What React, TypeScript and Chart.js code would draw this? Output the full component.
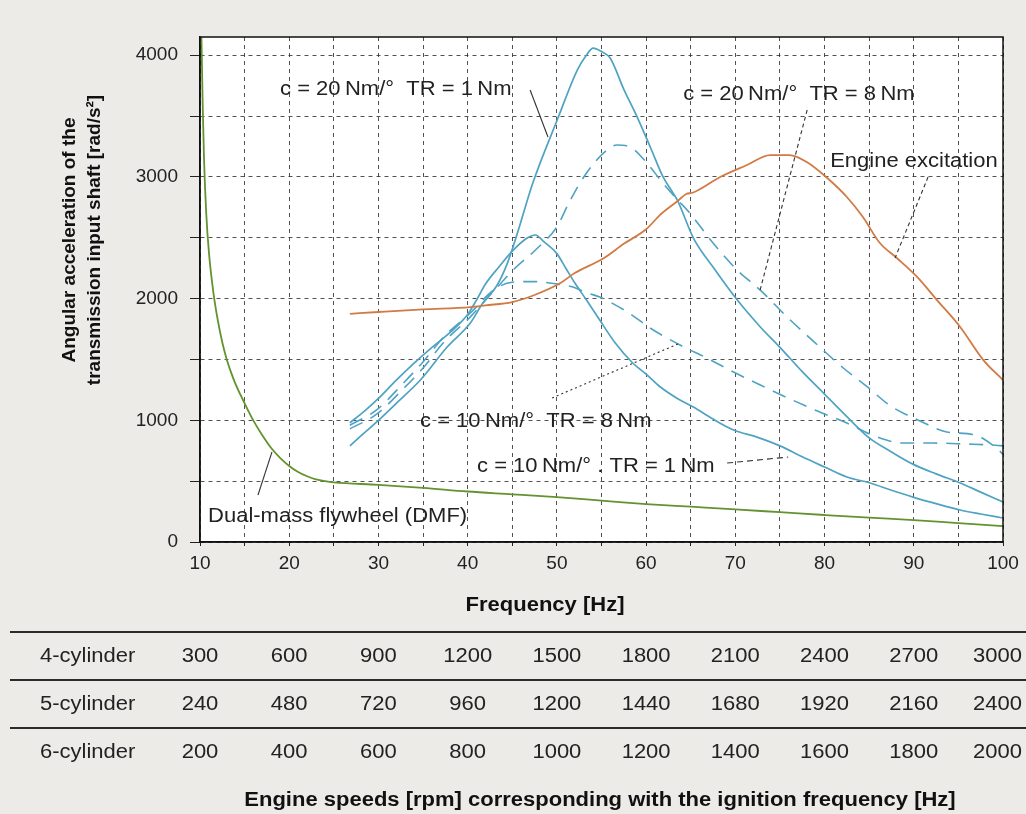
import React, { useEffect, useRef } from 'react';
import { Chart, registerables } from 'chart.js';

Chart.register(...registerables);

// ---- Data (Hz, rad/s^2) ----
const dmfHz = [10.12, 10.2, 10.3, 10.45, 10.7, 11.0, 11.5, 12.0, 12.5, 13.0, 13.5, 14.0, 14.5, 15.0, 15.5, 16.0, 17.0, 18.0, 19.0, 20.0, 21.0, 22.0, 23.0, 24.0, 25.0, 30, 35, 40, 45, 50, 55, 60, 65, 70, 75, 80, 85, 90, 95, 100];
const dmfVal = [4300, 4000, 3600, 3150, 2700, 2380, 2050, 1820, 1640, 1500, 1390, 1295, 1215, 1140, 1065, 995, 875, 770, 690, 625, 575, 540, 515, 500, 490, 470, 445, 415, 392, 368, 340, 312, 290, 268, 245, 222, 200, 180, 155, 131];

const c20tr1Hz = [26.8, 28, 30, 32, 34.7, 37.7, 40.3, 41.7, 43.3, 44.5, 45.5, 47.3, 50.1, 52.3, 53.3, 54.06, 55.0, 55.97, 57.5, 59.0, 60.5, 61.9, 63.0, 63.5, 65.3, 67.5, 70.2, 72.8, 75.0, 77.5, 80.0, 82.5, 85.0, 87.5, 89.9, 92.5, 95.2, 97.5, 100];
const c20tr1Val = [790, 870, 1000, 1140, 1331, 1602, 1800, 1964, 2110, 2300, 2520, 2950, 3480, 3880, 4000, 4059, 4030, 3977, 3720, 3492, 3240, 3000, 2870, 2810, 2498, 2260, 1990, 1767, 1600, 1400, 1215, 1030, 855, 740, 640, 560, 485, 410, 329];

const c10tr1Hz = [26.8, 28.5, 30, 32, 34, 36, 38, 40, 41, 42, 43.5, 45, 46.5, 47.6, 48.5, 50, 51, 52, 53.3, 54.8, 56.5, 58.5, 60, 61.6, 63.5, 65.3, 67.5, 69.8, 72.5, 75, 77.5, 80, 82.5, 85.1, 87.5, 90, 92.5, 95.2, 97.5, 100];
const c10tr1Val = [980, 1080, 1180, 1330, 1470, 1600, 1720, 1870, 1990, 2120, 2260, 2390, 2490, 2523, 2470, 2370, 2250, 2130, 1990, 1824, 1640, 1471, 1380, 1274, 1180, 1109, 1010, 920, 860, 790, 700, 616, 534, 485, 425, 367, 315, 263, 230, 197];

const c10tr8Hz = [26.8, 29.8, 32.8, 35, 37.3, 40.3, 42.9, 45, 47.5, 50, 51.8, 53.3, 54.8, 57.9, 60.8, 63.8, 66.8, 69.8, 72.8, 75.9, 79.2, 82.5, 85.6, 88.8, 92.2, 95.8, 99.2, 100];
const c10tr8Val = [960, 1085, 1306, 1480, 1684, 1882, 2070, 2135, 2140, 2120, 2095, 2050, 2013, 1890, 1742, 1619, 1512, 1397, 1290, 1183, 1076, 978, 871, 813, 813, 805, 795, 790];

const c20tr8Hz = [26.8, 29.8, 32.8, 35, 37.3, 40.3, 42.9, 45.3, 47.6, 50, 51.4, 53.3, 55.6, 56.7, 58.2, 60.1, 61.6, 63.3, 64.9, 67.5, 70.2, 72.8, 75.8, 79.5, 82.1, 84.8, 87.4, 90.7, 93.7, 96.9, 99.5, 100];
const c20tr8Val = [930, 1050, 1260, 1430, 1640, 1850, 2060, 2250, 2400, 2590, 2795, 3030, 3221, 3262, 3246, 3114, 2975, 2830, 2703, 2457, 2235, 2070, 1849, 1600, 1430, 1274, 1118, 994, 904, 879, 756, 720];

const engineHz = [26.8, 30, 35, 40.3, 42, 45, 47.5, 50.4, 52, 55.2, 57.5, 60, 61.6, 63.5, 64.5, 65.2, 68.3, 71.3, 73.9, 76.1, 78, 80.3, 82.5, 84.3, 86.2, 88.1, 90.4, 92.6, 95.2, 97.8, 100];
const engineVal = [1875, 1890, 1912, 1931, 1945, 1972, 2030, 2128, 2210, 2330, 2450, 2570, 2690, 2800, 2860, 2870, 3000, 3098, 3180, 3180, 3122, 2991, 2835, 2670, 2457, 2334, 2177, 1988, 1767, 1495, 1331];

// ---- Axis ticks ----
const xTickValues = [10, 15, 20, 25, 30, 35, 40, 45, 50, 55, 60, 65, 70, 75, 80, 85, 90, 95, 100];
const yTickValues = [0, 500, 1000, 1500, 2000, 2500, 3000, 3500, 4000];

// ---- Table below the axis ----
const freqTicks = [10, 20, 30, 40, 50, 60, 70, 80, 90, 100];
const rpm4 = [300, 600, 900, 1200, 1500, 1800, 2100, 2400, 2700, 3000];
const rpm5 = [240, 480, 720, 960, 1200, 1440, 1680, 1920, 2160, 2400];
const rpm6 = [200, 400, 600, 800, 1000, 1200, 1400, 1600, 1800, 2000];
const rowLabels = ['4-cylinder', '5-cylinder', '6-cylinder'];

// ---- Annotations (text, anchor in data units) ----
const noteTexts = ['c = 20\u2009Nm/\u00B0  TR = 1\u2009Nm', 'c = 20\u2009Nm/\u00B0  TR = 8\u2009Nm', 'Engine excitation', 'c = 10\u2009Nm/\u00B0  TR = 8\u2009Nm', 'c = 10\u2009Nm/\u00B0 . TR = 1\u2009Nm', 'Dual-mass flywheel (DMF)'];
const noteHz = [18.97, 64.15, 80.63, 34.66, 41.05, 10.9];
const noteVal = [3673, 3632, 3081, 945, 575, 164];
const leaderFromHz = [47.0, 78.05, 91.6, 49.46, 69.08, 16.5];
const leaderFromVal = [3714, 3550, 2999, 1183, 649, 386];
const leaderToHz = [49.0, 72.78, 87.9, 63.8, 75.92, 18.07];
const leaderToVal = [3328, 2071, 2334, 1635, 698, 740];
const leaderDash = [[], [4, 3], [4, 3], [2, 3], [6, 4], []];

const BLUE = '#4fa3c2';
const ORANGE = '#d27a44';
const GREEN = '#62932f';
const FONT = '"Liberation Sans", Arial, Helvetica, sans-serif';
const STRETCH = 1.1;

const pts = (xs: number[], ys: number[]) => xs.map((x, i) => ({ x, y: ys[i] }));

function stretchText(ctx: CanvasRenderingContext2D, text: string, x: number, y: number, sx: number) {
  ctx.save();
  ctx.translate(x, y);
  ctx.scale(sx, 1);
  ctx.fillText(text, 0, 0);
  ctx.restore();
}

const decor = {
  id: 'decor',
  beforeDraw(chart: any) {
    const { ctx, chartArea: a, width, height } = chart;
    ctx.save();
    ctx.fillStyle = '#ecebe8';
    ctx.fillRect(0, 0, width, height);
    ctx.fillStyle = '#ffffff';
    ctx.fillRect(a.left, a.top, a.right - a.left, a.bottom - a.top);
    ctx.restore();
  },
  afterDraw(chart: any) {
    const { ctx, chartArea: a, scales, width } = chart;
    const x = scales.x;
    const y = scales.y;
    ctx.save();
    ctx.setLineDash([]);
    ctx.strokeStyle = '#111';
    ctx.lineWidth = 1.5;
    ctx.strokeRect(a.left, a.top, a.right - a.left, a.bottom - a.top);

    // leaders
    ctx.strokeStyle = '#333';
    ctx.lineWidth = 1.1;
    for (let i = 0; i < leaderFromHz.length; i++) {
      ctx.setLineDash(leaderDash[i]);
      ctx.beginPath();
      ctx.moveTo(x.getPixelForValue(leaderFromHz[i]), y.getPixelForValue(leaderFromVal[i]));
      ctx.lineTo(x.getPixelForValue(leaderToHz[i]), y.getPixelForValue(leaderToVal[i]));
      ctx.stroke();
    }
    ctx.setLineDash([]);

    // annotation texts
    ctx.fillStyle = '#222';
    ctx.font = `20px ${FONT}`;
    ctx.textAlign = 'left';
    ctx.textBaseline = 'alphabetic';
    for (let i = 0; i < noteTexts.length; i++) {
      stretchText(ctx, noteTexts[i], x.getPixelForValue(noteHz[i]), y.getPixelForValue(noteVal[i]), STRETCH);
    }

    // y title
    ctx.fillStyle = '#111';
    ctx.font = `bold 19px ${FONT}`;
    ctx.textAlign = 'center';
    ctx.textBaseline = 'middle';
    ctx.save();
    ctx.translate(70, 240);
    ctx.rotate(-Math.PI / 2);
    ctx.fillText('Angular acceleration of the', 0, 0);
    ctx.restore();
    ctx.save();
    ctx.translate(95, 240);
    ctx.rotate(-Math.PI / 2);
    ctx.fillText('transmission input shaft [rad/s\u00B2]', 0, 0);
    ctx.restore();

    // x title
    ctx.font = `bold 20px ${FONT}`;
    stretchText(ctx, 'Frequency [Hz]', 545, 605, STRETCH);

    // table
    ctx.strokeStyle = '#2a2a2a';
    ctx.lineWidth = 2;
    [632, 680, 728].forEach((ly) => {
      ctx.beginPath();
      ctx.moveTo(10, ly);
      ctx.lineTo(width, ly);
      ctx.stroke();
    });
    const rows = [rpm4, rpm5, rpm6];
    const rowY = [656, 704, 752];
    ctx.font = `20px ${FONT}`;
    ctx.fillStyle = '#222';
    rows.forEach((r, ri) => {
      ctx.textAlign = 'left';
      stretchText(ctx, rowLabels[ri], 40, rowY[ri], STRETCH);
      ctx.textAlign = 'center';
      r.forEach((v, ci) => {
        const s = String(v);
        const half = (ctx.measureText(s).width * STRETCH) / 2;
        const cx = Math.min(x.getPixelForValue(freqTicks[ci]), width - 4 - half);
        stretchText(ctx, s, cx, rowY[ri], STRETCH);
      });
    });
    ctx.fillStyle = '#111';
    ctx.font = `bold 20px ${FONT}`;
    ctx.textAlign = 'center';
    stretchText(ctx, 'Engine speeds [rpm] corresponding with the ignition frequency [Hz]', 600, 800, STRETCH);
    ctx.restore();
  },
};

export default function App() {
  const ref = useRef<HTMLCanvasElement>(null);
  useEffect(() => {
    if (!ref.current) return;
    const line = (data: any, color: string, dash: number[] = [], width = 1.7) => ({
      data,
      borderColor: color,
      borderWidth: width,
      borderDash: dash,
      pointRadius: 0,
      fill: false,
      cubicInterpolationMode: 'monotone' as const,
    });
    const chart = new Chart(ref.current, {
      type: 'line',
      data: {
        datasets: [
          line(pts(dmfHz, dmfVal), GREEN, [], 1.8),
          line(pts(engineHz, engineVal), ORANGE, [], 1.8),
          line(pts(c10tr8Hz, c10tr8Val), BLUE, [14, 9], 1.6),
          line(pts(c20tr8Hz, c20tr8Val), BLUE, [14, 9], 1.6),
          line(pts(c10tr1Hz, c10tr1Val), BLUE, [], 1.7),
          line(pts(c20tr1Hz, c20tr1Val), BLUE, [], 1.7),
        ],
      },
      options: {
        animation: false,
        responsive: false,
        devicePixelRatio: 1,
        parsing: false as any,
        layout: { padding: { top: 37, right: 23, left: 0, bottom: 0 } },
        plugins: { legend: { display: false }, tooltip: { enabled: false } },
        scales: {
          x: {
            type: 'linear',
            min: 10,
            max: 100,
            afterBuildTicks: (s: any) => {
              s.ticks = xTickValues.map((v) => ({ value: v }));
            },
            afterFit: (s: any) => {
              s.height = 272;
            },
            ticks: {
              autoSkip: false,
              maxRotation: 0,
              padding: 6,
              color: '#222',
              font: { family: FONT, size: 19 },
              callback: (v: any) => (Number(v) % 10 === 0 ? String(v) : ''),
            },
            grid: { color: 'rgba(40,40,40,0.8)', lineWidth: 1, tickLength: 4, tickColor: '#222' },
            border: { display: true, color: '#111', width: 1.5, dash: [4, 4] },
          },
          y: {
            type: 'linear',
            min: 0,
            max: 4150,
            afterBuildTicks: (s: any) => {
              s.ticks = yTickValues.map((v) => ({ value: v }));
            },
            afterFit: (s: any) => {
              s.width = 200;
            },
            ticks: {
              autoSkip: false,
              padding: 12,
              color: '#222',
              font: { family: FONT, size: 19 },
              callback: (v: any) => (Number(v) % 1000 === 0 ? String(v) : ''),
            },
            grid: { color: 'rgba(40,40,40,0.8)', lineWidth: 1, tickLength: 10, tickColor: '#222' },
            border: { display: true, color: '#111', width: 1.5, dash: [4, 4] },
          },
        },
      },
      plugins: [decor],
    });
    return () => chart.destroy();
  }, []);
  return (
    <div style={{ position: 'absolute', left: 0, top: 0, width: 1026, height: 814 }}>
      <canvas ref={ref} width={1026} height={814} style={{ display: 'block', width: 1026, height: 814 }} />
    </div>
  );
}
